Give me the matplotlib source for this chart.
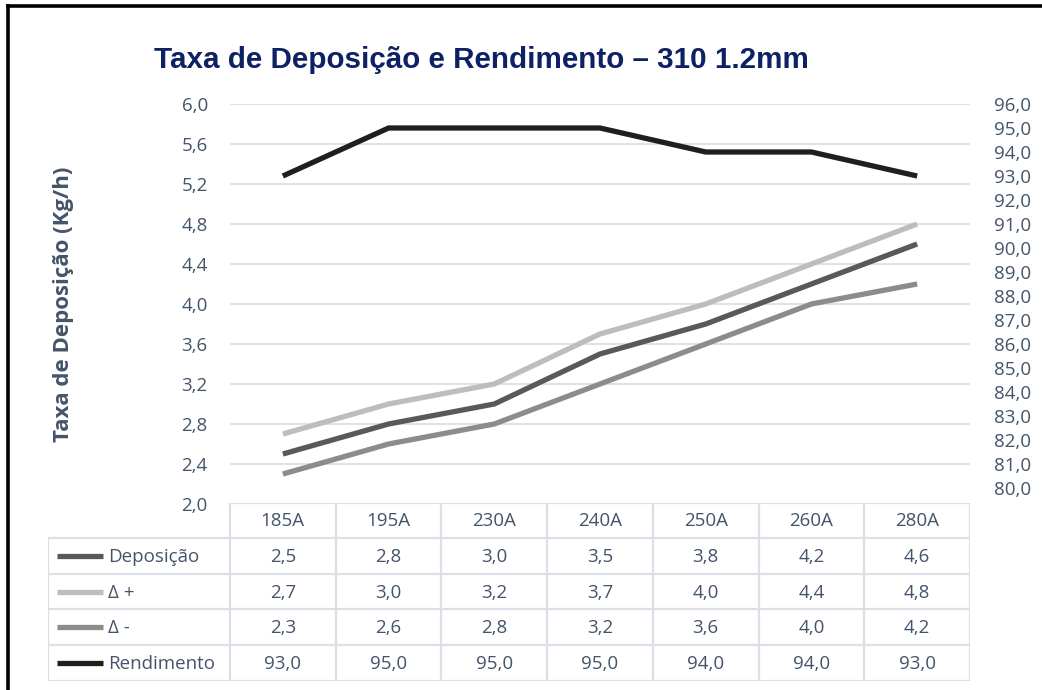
import matplotlib
matplotlib.use("Agg")
import matplotlib.pyplot as plt
from matplotlib.lines import Line2D
import numpy as np

categories = ["185A", "195A", "230A", "240A", "250A", "260A", "280A"]
deposicao = [2.5, 2.8, 3.0, 3.5, 3.8, 4.2, 4.6]
delta_mais = [2.7, 3.0, 3.2, 3.7, 4.0, 4.4, 4.8]
delta_menos = [2.3, 2.6, 2.8, 3.2, 3.6, 4.0, 4.2]
rendimento = [93.0, 95.0, 95.0, 95.0, 94.0, 94.0, 93.0]

series_names = ["Deposição", "Δ +", "Δ -", "Rendimento"]
series_colors = ["#595959", "#BDBDBD", "#8C8C8C", "#1F1F1F"]

title = "Taxa de Deposição e Rendimento – 310 1.2mm"
ylabel = "Taxa de Deposição (Kg/h)"
left_ticks = [2.0, 2.4, 2.8, 3.2, 3.6, 4.0, 4.4, 4.8, 5.2, 5.6, 6.0]
right_ticks = list(range(80, 97))

W, H = 1042, 690
fig = plt.figure(figsize=(W / 100, H / 100), dpi=100)
fig.patch.set_facecolor("white")

def fx(px):
    return px / W

def fy(py):
    return 1 - py / H

TXT = "#44546A"
GRID = "#DCE0E6"
FONT = "Open Sans"
FS = 13.5

ax_l, ax_r, ax_t, ax_b = 230, 970, 104, 504
ax = fig.add_axes([fx(ax_l), fy(ax_b), fx(ax_r - ax_l), (ax_b - ax_t) / H])
x = np.arange(len(categories))
lw = 3.8
ax.plot(x, deposicao, color=series_colors[0], lw=lw, solid_capstyle="butt", zorder=3)
ax.plot(x, delta_mais, color=series_colors[1], lw=lw, solid_capstyle="butt", zorder=3)
ax.plot(x, delta_menos, color=series_colors[2], lw=lw, solid_capstyle="butt", zorder=3)
ax.set_xlim(-0.5, len(categories) - 0.5)
ax.set_ylim(2.0, 6.0)
ax.set_yticks(left_ticks)
ax.set_yticklabels([f"{v:.1f}".replace(".", ",") for v in left_ticks],
                   fontsize=FS, color=TXT, family=FONT)
ax.tick_params(axis="y", length=0, pad=16)
ax.set_xticks([])
ax.grid(axis="y", color=GRID, lw=1.3)
for s in ax.spines.values():
    s.set_visible(False)
ax.set_ylabel(ylabel, fontsize=16, fontweight="bold", color=TXT, family=FONT)
ax.yaxis.set_label_coords(-(ax_l - 74) / (ax_r - ax_l), 0.5)

ax2 = ax.twinx()
ax2.plot(x, rendimento, color=series_colors[3], lw=lw, solid_capstyle="butt", zorder=3)
ax2.set_ylim(96 - 400 / 24.0, 96)
ax2.set_yticks(right_ticks)
ax2.set_yticklabels([f"{v:.1f}".replace(".", ",") for v in right_ticks],
                    fontsize=FS, color=TXT, family=FONT)
ax2.tick_params(axis="y", length=0, pad=17)
for s in ax2.spines.values():
    s.set_visible(False)

# data table
tab_l, tab_top, tab_bot = 48, 503, 681
unit = (ax_r - ax_l) / len(categories)
tab = fig.add_axes([fx(tab_l), fy(tab_bot), fx(ax_r - tab_l), (tab_bot - tab_top) / H])
xl0 = -0.5 - (ax_l - tab_l) / unit
tab.set_xlim(xl0, len(categories) - 0.5)
row_h = [35, 36, 35, 36, 36]
edges = [0]
for h in row_h:
    edges.append(edges[-1] + h)
total = edges[-1]
tab.set_ylim(total, 0)
tab.axis("off")

ec = "#DCE0E6"
elw = 1.6
tab.plot([-0.5, len(categories) - 0.5], [edges[0], edges[0]], color=ec, lw=elw)
for i in range(len(categories) + 1):
    tab.plot([i - 0.5, i - 0.5], [edges[0], edges[1]], color=ec, lw=elw)
for i, c in enumerate(categories):
    tab.text(i, (edges[0] + edges[1]) / 2 + 1, c, ha="center", va="center",
             fontsize=FS, color=TXT, family=FONT)
for e in edges[1:]:
    tab.plot([xl0, len(categories) - 0.5], [e, e], color=ec, lw=elw)
for xx in [xl0] + [i - 0.5 for i in range(len(categories) + 1)]:
    tab.plot([xx, xx], [edges[1], edges[-1]], color=ec, lw=elw)

rows = [deposicao, delta_mais, delta_menos, rendimento]
key_x0 = xl0 + 9 / unit
key_x1 = xl0 + 55 / unit
txt_x = xl0 + 60 / unit
for r, (name, col, vals) in enumerate(zip(series_names, series_colors, rows)):
    yc = (edges[r + 1] + edges[r + 2]) / 2
    tab.plot([key_x0, key_x1], [yc, yc], color=col, lw=lw, solid_capstyle="butt")
    tab.text(txt_x, yc + 1, name, ha="left", va="center", fontsize=FS, color=TXT, family=FONT)
    for i, v in enumerate(vals):
        tab.text(i, yc + 1, f"{v:.1f}".replace(".", ","), ha="center", va="center",
                 fontsize=FS, color=TXT, family=FONT)

fig.text(fx(481), fy(60), title, ha="center", va="center", fontsize=21.3,
         fontweight="bold", color="#0E2164", family="Liberation Sans")

# outer frame (top & left)
fig.add_artist(Line2D([fx(7.5), 1], [fy(6), fy(6)], color="black", lw=2.6))
fig.add_artist(Line2D([fx(7.5), fx(7.5)], [fy(6), 0], color="black", lw=2.6))

fig.savefig("out.png", dpi=100, facecolor="white")
